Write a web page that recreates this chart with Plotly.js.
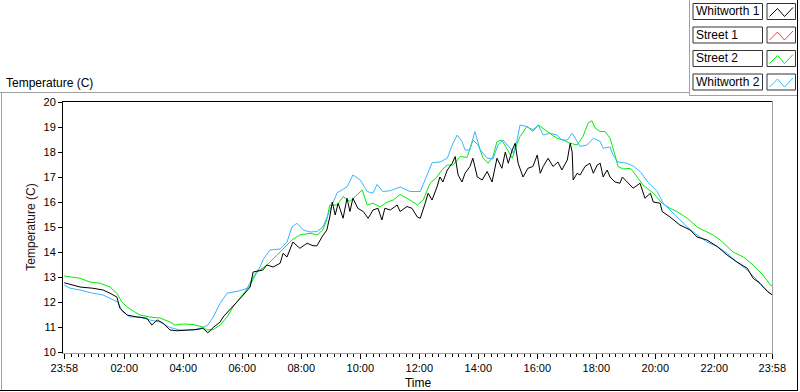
<!DOCTYPE html>
<html>
<head>
<meta charset="utf-8">
<script src="https://cdn.plot.ly/plotly-3.0.1.min.js"></script>
<style>html,body{margin:0;padding:0;background:#fff;}#chart{width:800px;height:392px;}</style>
</head>
<body>
<div id="chart"></div>
<script>
// ---- data (minutes since midnight; 23:58 of the previous day = -2) ----
const seriesNames = ['Whitworth 1', 'Street 1', 'Street 2', 'Whitworth 2'];
const seriesColors = ['#000000', '#ff3c3c', '#00ee00', '#3cb4ff'];

const minutesW1 = [
  -2, 30, 56, 77, 91, 105, 111, 126, 146, 166,
  176, 187, 199, 213, 227, 248, 268, 280, 290, 301,
  315, 321, 335, 349, 362, 376, 382, 402, 410, 423,
  437, 443, 451, 463, 477, 492, 504, 512, 522, 532,
  538, 543, 549, 555, 565, 573, 579, 585, 595, 606,
  616, 626, 636, 644, 650, 661, 675, 681, 695, 705,
  716, 722, 732, 738, 746, 756, 762, 768, 777, 787,
  793, 799, 807, 813, 823, 829, 838, 848, 858, 868,
  878, 888, 895, 901, 909, 915, 921, 931, 941, 951,
  960, 966, 972, 982, 992, 1002, 1010, 1021, 1027, 1031,
  1033, 1041, 1047, 1057, 1067, 1074, 1082, 1088, 1094, 1102,
  1108, 1118, 1128, 1133, 1143, 1155, 1169, 1179, 1190, 1196,
  1210, 1214, 1230, 1250, 1271, 1285, 1305, 1326, 1346, 1366,
  1387, 1399, 1413, 1428, 1438
];
const tempW1 = [
  12.77, 12.6, 12.55, 12.48, 12.35, 12.2, 11.75, 11.48, 11.4, 11.35,
  11.08, 11.28, 11.15, 10.88, 10.85, 10.88, 10.9, 10.95, 10.77, 10.98,
  11.2, 11.4, 11.68, 12.0, 12.28, 12.6, 13.2, 13.28, 13.48, 13.4,
  13.55, 13.95, 13.8, 14.4, 14.15, 14.35, 14.25, 14.25, 14.6, 14.88,
  15.4, 16.0, 15.48, 15.95, 15.35, 16.15, 15.62, 16.15, 15.75, 15.62,
  15.35, 15.68, 15.75, 15.28, 15.75, 15.68, 15.88, 15.62, 15.82, 15.75,
  15.4, 15.35, 15.95, 16.35, 16.08, 16.6, 17.0, 16.8, 17.28, 17.55,
  17.82, 17.08, 16.8, 17.15, 17.42, 17.75, 17.0, 16.88, 17.22, 16.8,
  17.75, 17.35, 18.0, 17.55, 18.08, 18.35, 17.55, 17.0, 17.35, 17.42,
  17.88, 17.15, 17.42, 17.75, 17.42, 17.6, 17.28, 17.68, 18.35, 18.0,
  16.88, 17.15, 17.08, 17.42, 17.55, 17.15, 17.48, 17.55, 17.0, 17.28,
  17.0, 16.8, 16.75, 17.0, 16.8, 16.55, 16.75, 16.15, 16.35, 16.0,
  15.95, 15.62, 15.4, 15.08, 14.88, 14.6, 14.48, 14.22, 13.88, 13.6,
  13.35, 12.95, 12.75, 12.42, 12.28
];

const minutesS1 = [];
const tempS1 = [];

const minutesS2 = [
  -2, 30, 50, 71, 91, 105, 115, 126, 138, 152,
  172, 193, 213, 223, 240, 260, 280, 288, 301, 315,
  329, 341, 355, 376, 390, 410, 431, 443, 461, 477,
  498, 512, 524, 532, 538, 553, 565, 579, 594, 604,
  614, 626, 640, 655, 667, 681, 701, 716, 728, 742,
  756, 766, 777, 789, 803, 817, 829, 840, 850, 860,
  870, 878, 888, 899, 909, 919, 925, 939, 951, 962,
  972, 986, 1000, 1013, 1027, 1041, 1053, 1063, 1071, 1078,
  1088, 1098, 1108, 1118, 1124, 1135, 1149, 1155, 1163, 1175,
  1196, 1214, 1230, 1244, 1265, 1285, 1297, 1318, 1332, 1346,
  1358, 1379, 1399, 1419, 1434, 1438
];
const tempS2 = [
  13.04, 12.95, 12.8, 12.75, 12.6, 12.35, 12.0, 11.8, 11.64, 11.48,
  11.4, 11.36, 11.2, 11.08, 11.12, 11.1, 11.0, 10.88, 10.9, 11.08,
  11.4, 11.8, 12.15, 12.68, 13.2, 13.48, 13.88, 14.12, 14.48, 14.68,
  14.75, 14.68, 14.88, 15.3, 15.88, 15.88, 16.22, 16.02, 16.28, 16.48,
  15.88, 15.95, 15.8, 16.0, 16.08, 16.3, 16.08, 15.88, 16.08, 16.75,
  17.0, 17.28, 17.48, 17.48, 17.82, 17.78, 18.48, 18.28, 17.75, 17.55,
  17.82, 18.42, 18.48, 18.08, 17.75, 18.35, 18.62, 19.02, 18.82, 19.08,
  18.95, 18.75, 18.55, 18.48, 18.35, 18.28, 18.62, 19.15, 19.25, 18.95,
  18.82, 18.82, 18.55, 17.88, 17.42, 17.32, 17.35, 17.22, 17.0, 16.68,
  16.35, 15.95, 15.75, 15.62, 15.35, 15.0, 14.88, 14.68, 14.48, 14.22,
  14.0, 13.8, 13.48, 13.08, 12.68, 12.65
];

const minutesW2 = [
  -2, 10, 30, 56, 77, 97, 107, 117, 132, 152,
  172, 193, 213, 233, 260, 280, 290, 301, 315, 329,
  355, 370, 382, 396, 402, 416, 437, 451, 461, 471,
  484, 498, 512, 524, 538, 553, 573, 585, 600, 614,
  626, 634, 646, 661, 681, 701, 722, 732, 746, 762,
  777, 787, 797, 807, 813, 823, 833, 844, 858, 870,
  880, 890, 905, 911, 919, 925, 939, 951, 962, 972,
  986, 1000, 1010, 1021, 1031, 1041, 1047, 1061, 1074, 1088,
  1094, 1108, 1114, 1124, 1143, 1155, 1169, 1185, 1204, 1216,
  1230, 1244, 1265, 1285, 1305, 1326, 1346, 1366, 1387, 1407,
  1419, 1438
];
const tempW2 = [
  12.68, 12.55, 12.48, 12.35, 12.28, 12.1, 12.0, 11.6, 11.4, 11.4,
  11.28, 11.2, 10.98, 10.88, 10.88, 10.98, 11.08, 11.4, 11.95, 12.35,
  12.45, 12.55, 13.0, 13.4, 13.68, 14.08, 14.12, 14.4, 15.0, 15.15,
  14.88, 14.8, 14.82, 15.0, 15.68, 16.37, 16.6, 17.08, 16.88, 16.42,
  16.35, 16.7, 16.42, 16.45, 16.6, 16.42, 16.42, 16.88, 17.57, 17.6,
  17.75, 18.28, 18.68, 18.42, 18.08, 18.08, 18.82, 18.08, 17.75, 17.72,
  18.28, 18.48, 18.15, 17.95, 18.48, 19.08, 19.02, 18.88, 19.08, 18.68,
  18.75, 18.68, 18.48, 18.48, 18.75, 18.42, 18.22, 18.28, 18.55, 18.42,
  18.15, 18.2, 17.88, 17.6, 17.55, 17.44, 17.22, 16.8, 16.42, 15.95,
  15.68, 15.44, 15.0, 14.68, 14.4, 14.22, 13.95, 13.6, 13.28, 12.88,
  12.6, 12.28
];

const xTickVals = [-2, 120, 240, 360, 480, 600, 720, 840, 960, 1080, 1200, 1320, 1438];
const xTickText = ['23:58', '02:00', '04:00', '06:00', '08:00', '10:00', '12:00',
                   '14:00', '16:00', '18:00', '20:00', '22:00', '23:58'];
const yTickVals = [10, 11, 12, 13, 14, 15, 16, 17, 18, 19, 20];

// ---- layout geometry (pixels) ----
const L = 63, R = 773, T = 101, B = 353;
const W = R - L, H = B - T;
const px = x => (x - L) / W;
const py = y => (B - y) / H;

const minorVals = [];
for (let k = 1; k * 120 / 9 < 1438; k++) { if (k % 9 !== 0) minorVals.push(k * 120 / 9); }

const traceOrder = [1, 2, 3, 0];
const xs = [minutesW1, minutesS1, minutesS2, minutesW2];
const ys = [tempW1, tempS1, tempS2, tempW2];
const traces = traceOrder.map(i => ({
  type: 'scatter', mode: 'lines', name: seriesNames[i],
  x: xs[i], y: ys[i],
  line: {color: seriesColors[i], width: 1}
}));

const GRAY = '#a0a0a0';
const line = (x0, y0, x1, y1, c) => ({type: 'line', xref: 'paper', yref: 'paper',
  x0: px(x0), y0: py(y0), x1: px(x1), y1: py(y1), line: {color: c, width: 1}});

const shapes = [
  line(0, 92.5, 689.5, 92.5, GRAY),
  line(1.5, 92.5, 1.5, 391, GRAY),
  line(689.5, 0, 689.5, 95.5, GRAY),
  line(689.5, 95.5, 797, 95.5, GRAY),
  line(797.5, 0, 797.5, 391, '#000'),
  line(0, 390.5, 798, 390.5, '#000'),
  line(63, 101.5, 773, 101.5, '#000'),
  line(772.5, 101, 772.5, 353, GRAY)
];
const annotations = [{
  xref: 'paper', yref: 'paper', x: px(4), y: py(83), xanchor: 'left', yanchor: 'middle',
  text: 'Temperature (C)', showarrow: false, font: {size: 12, color: '#000'}
}];
seriesNames.forEach((name, i) => {
  const top = 3.5 + i * 23.5, bot = top + 16;
  shapes.push({type: 'rect', xref: 'paper', yref: 'paper',
    x0: px(693), x1: px(762.5), y0: py(bot), y1: py(top), line: {color: '#333', width: 1}, fillcolor: '#fff'});
  shapes.push({type: 'rect', xref: 'paper', yref: 'paper',
    x0: px(767), x1: px(795.5), y0: py(bot), y1: py(top), line: {color: '#333', width: 1}, fillcolor: '#fff'});
  const pts = [[769.5, top + 13], [777.5, top + 5], [784.5, top + 13], [793, top + 4]];
  shapes.push({type: 'path', xref: 'paper', yref: 'paper',
    path: 'M' + pts.map(p => px(p[0]) + ',' + py(p[1])).join(' L'),
    line: {color: seriesColors[i], width: 1}});
  annotations.push({xref: 'paper', yref: 'paper', x: px(694), y: py(top + 8),
    xanchor: 'left', yanchor: 'middle', text: name, showarrow: false,
    font: {size: 12, color: '#000'}});
});

const layout = {
  width: 800, height: 392,
  margin: {l: L, r: 800 - R, t: T, b: 392 - B, pad: 0},
  paper_bgcolor: '#fff', plot_bgcolor: '#fff',
  showlegend: false,
  font: {family: 'Liberation Sans, Arial, sans-serif', size: 12, color: '#000'},
  xaxis: {
    range: [-4.6, 1439.4], tickmode: 'array', tickvals: xTickVals, ticktext: xTickText,
    ticks: 'outside', ticklen: 5, tickwidth: 1, tickcolor: '#000',
    showgrid: false, zeroline: false, showline: true, linecolor: GRAY, linewidth: 1,
    tickfont: {size: 11},
    title: {text: 'Time', font: {size: 12}, standoff: 5},
    minor: {tickmode: 'array', tickvals: minorVals, ticks: 'outside', ticklen: 3,
            tickcolor: '#000', tickwidth: 1, showgrid: false}
  },
  yaxis: {
    range: [9.96, 20.04], tickmode: 'array', tickvals: yTickVals,
    ticks: 'outside', ticklen: 4, tickwidth: 1, tickcolor: '#000',
    showgrid: false, zeroline: false, showline: true, linecolor: '#000', linewidth: 1,
    tickfont: {size: 11},
    title: {text: 'Temperature (C)', font: {size: 12, color: '#2a1010'}, standoff: 5},
  },
  shapes: shapes,
  annotations: annotations
};

Plotly.newPlot('chart', traces, layout, {displayModeBar: false, staticPlot: true});
</script>
</body>
</html>
